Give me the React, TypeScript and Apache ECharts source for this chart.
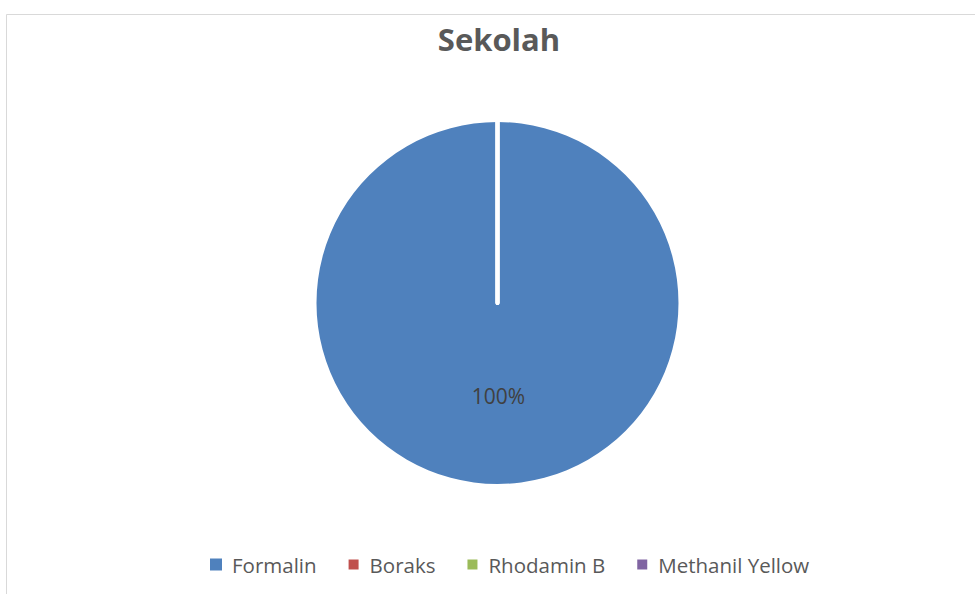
import React, { useEffect, useRef } from "react";
import * as echarts from "echarts";

const categories = ["Formalin", "Boraks", "Rhodamin B", "Methanil Yellow"];
const values = [100, 0, 0, 0];
const colors = ["#4f81bd", "#c0504d", "#9bbb59", "#8064a2"];
const titleText = "Sekolah";

export default function App() {
  const ref = useRef<HTMLDivElement>(null);
  useEffect(() => {
    if (!ref.current) return;
    const chart = echarts.init(ref.current, undefined, { renderer: "svg" });
    const total = values.reduce((a, b) => a + b, 0);
    chart.setOption({
      animation: false,
      backgroundColor: "#ffffff",
      color: colors,
      title: {
        text: titleText,
        left: 494,
        textAlign: "center",
        top: 18,
        textStyle: { fontFamily: "Open Sans", fontWeight: "bold", fontSize: 31, color: "#595959" },
      },
      graphic: [
        {
          type: "rect",
          shape: { x: 6.5, y: 14.5, width: 1200, height: 1200 },
          style: { fill: "none", stroke: "#d9d9d9", lineWidth: 1 },
          silent: true,
        },
      ],
      legend: {
        data: categories,
        left: 205,
        top: 549,
        icon: "rect",
        itemWidth: 12,
        itemHeight: 12,
        itemGap: 30,
        textStyle: { fontFamily: "Open Sans", fontSize: 20.5, color: "#595959", padding: [0, 0, 0, 5] },
      },
      series: [
        {
          type: "pie",
          center: [497.5, 303],
          radius: [0, 181],
          startAngle: 90,
          clockwise: true,
          stillShowZeroSum: true,
          labelLine: { show: false },
          data: categories.map((name, i) => ({
            name,
            value: values[i],
            itemStyle: values[i] === 0
              ? { borderColor: "#ffffff", borderWidth: 4 }
              : { borderWidth: 0 },
            label: {
              show: values[i] > 0,
              position: "inside",
              offset: [1, -1],
              formatter: () => Math.round((values[i] / total) * 100) + "%",
              fontFamily: "Open Sans",
              fontSize: 21,
              color: "#404040",
            },
          })),
          emphasis: { disabled: true },
        },
      ],
    });
    return () => chart.dispose();
  }, []);
  return (
    <div
      ref={ref}
      style={{ position: "fixed", left: 0, top: 0, width: 975, height: 594 }}
    />
  );
}
